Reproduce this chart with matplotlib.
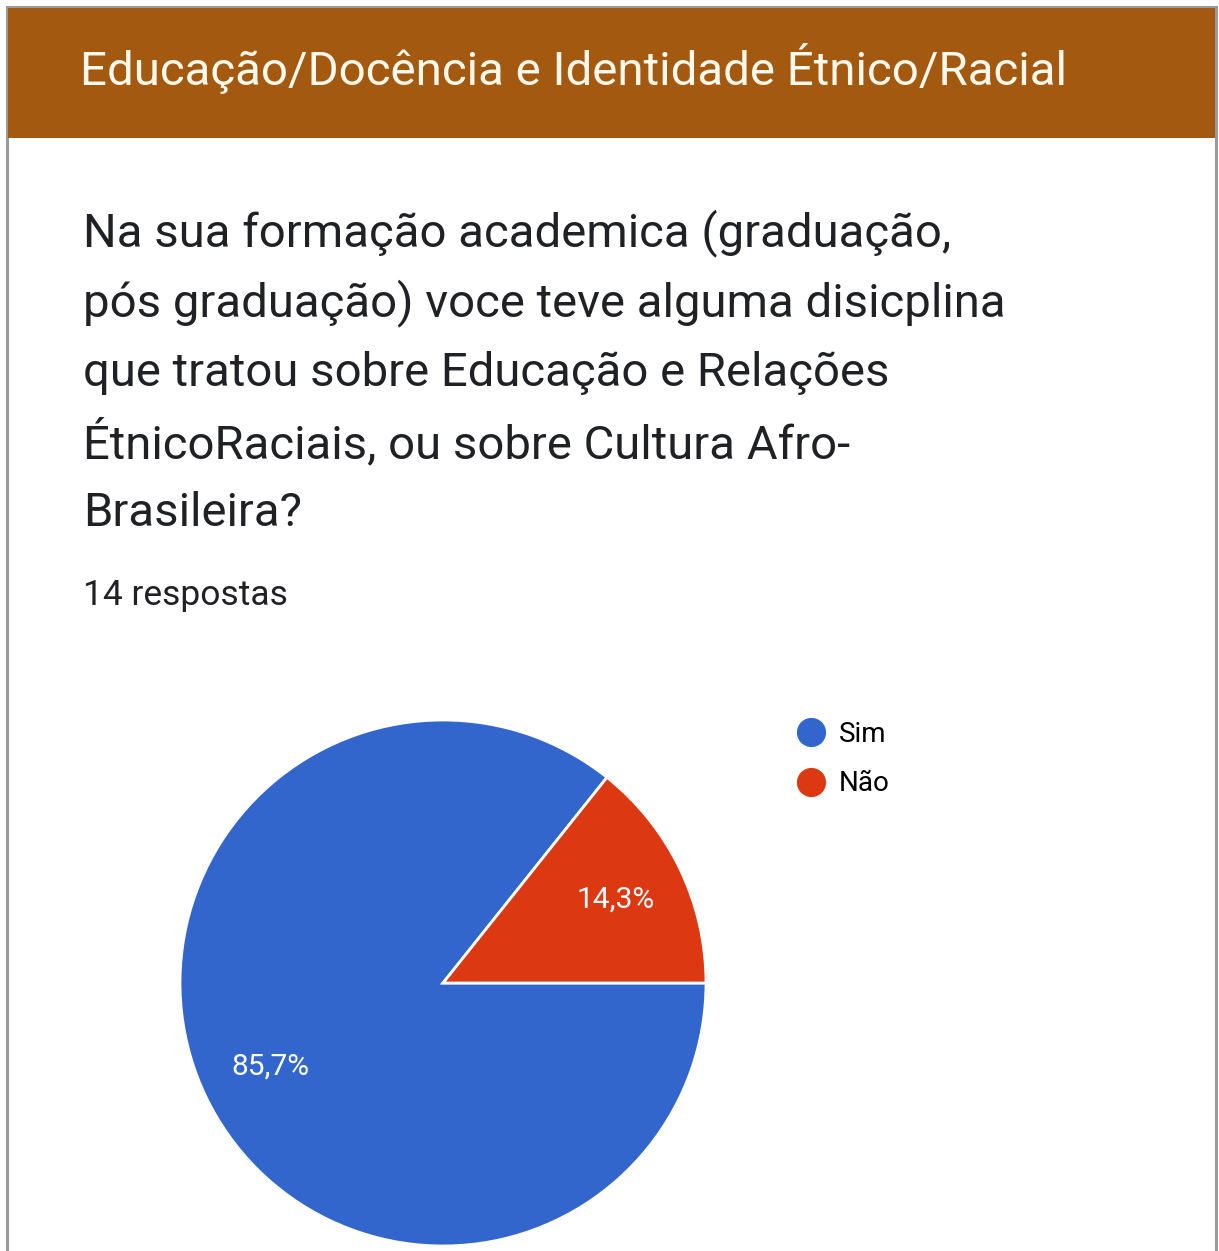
import matplotlib
matplotlib.use("Agg")
import matplotlib.pyplot as plt
from matplotlib.patches import Rectangle
from matplotlib.lines import Line2D

plt.rcParams['font.family'] = ['Roboto', 'DejaVu Sans']

# survey data
section_title = "Educação/Docência e Identidade Étnico/Racial"
question_lines = [
    "Na sua formação academica (graduação,",
    "pós graduação) voce teve alguma disicplina",
    "que tratou sobre Educação e Relações",
    "ÉtnicoRaciais, ou sobre Cultura Afro-",
    "Brasileira?",
]
n_responses = 14
answers = ["Sim", "Não"]
counts = [12, 2]
colors = ["#3366CC", "#DC3912"]

W, H = 1219, 1251
fig = plt.figure(figsize=(W / 100, H / 100), dpi=100)

# background layer in pixel coordinates (y grows downward)
bg = fig.add_axes([0, 0, 1, 1])
bg.set_xlim(0, W)
bg.set_ylim(H, 0)
bg.axis("off")

# card outline and header band
bg.add_patch(Rectangle((7, 7), 1209, 1260, facecolor="white", edgecolor="#9a9a9a", lw=2.2))
bg.add_patch(Rectangle((8, 8), 1207, 130, facecolor="#A3590F", edgecolor="none"))
bg.text(80, 68, section_title, color="#FFF8EC", fontsize=34.2, va="center", ha="left")

for i, line in enumerate(question_lines):
    bg.text(83, 233 + i * 70, line, color="#202124", fontsize=34, va="center", ha="left")

bg.text(83, 596, f"{n_responses} respostas", color="#202124", fontsize=25.5, va="center", ha="left")

# pie chart, center (443, 983), radius 263 px
cx, cy, r = 443, 983, 263
ax = fig.add_axes([(cx - r) / W, (H - cy - r) / H, 2 * r / W, 2 * r / H])
start = 360 * counts[1] / sum(counts)
wedges, texts, autotexts = ax.pie(
    counts, colors=colors, startangle=start, counterclock=True,
    autopct=lambda p: f"{p:.1f}%".replace(".", ","), pctdistance=0.73,
    wedgeprops=dict(edgecolor="white", linewidth=2),
    textprops=dict(color="white", fontsize=21.5),
)
ax.set_xlim(-1, 1)
ax.set_ylim(-1, 1)
ax.set_aspect("equal")

handles = [Line2D([], [], marker="o", linestyle="none", markersize=20,
                  markerfacecolor=c, markeredgecolor=c) for c in colors]
fig.legend(handles, answers, loc="upper left",
           bbox_to_anchor=(783 / W, 1 - 710 / H), frameon=False,
           fontsize=20, handletextpad=0.4, labelspacing=0.8,
           borderaxespad=0, handlelength=1.2)

fig.savefig("out.png", dpi=100)
